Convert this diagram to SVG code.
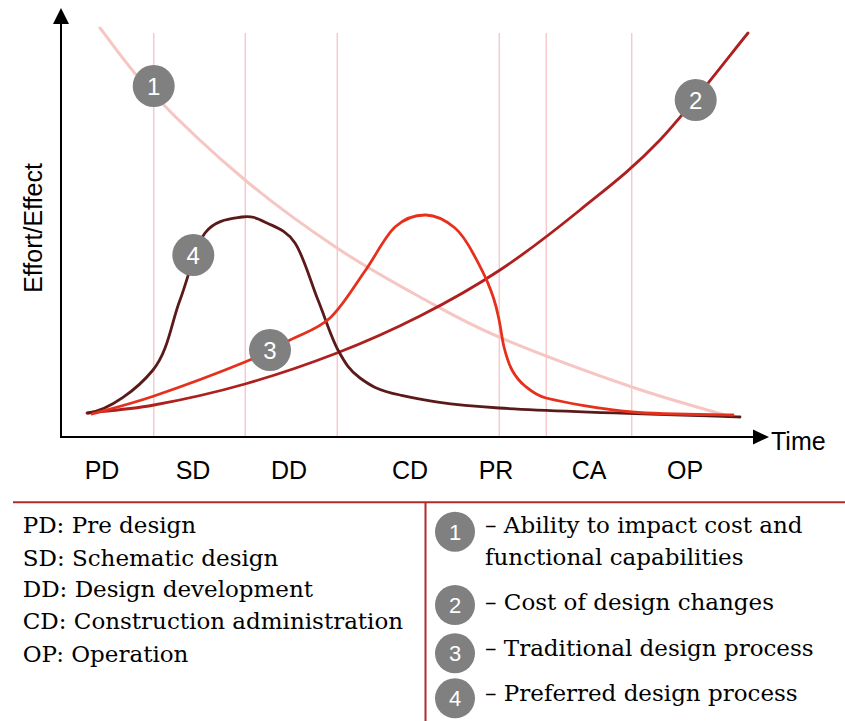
<svg xmlns="http://www.w3.org/2000/svg" width="845" height="721" viewBox="0 0 845 721">
<style>
.grid{stroke:#f6caca;stroke-width:1.5;fill:none}
.axis{stroke:#000;stroke-width:2;fill:none}
.curve{fill:none;stroke-linecap:round;stroke-linejoin:round}
.lbl{font-family:"Liberation Sans",Arial,sans-serif;font-size:25px;fill:#000}
.badge circle{fill:#808080}
.badge text{font-family:"Liberation Sans",Arial,sans-serif;fill:#fff;text-anchor:middle}
.leg{font-family:"DejaVu Serif","Liberation Serif",serif;font-size:23px;fill:#000}
.sep{stroke:#b22a2a;stroke-width:2;fill:none}
</style>
<rect width="845" height="721" fill="#fff"/>
<g id="grid">
<line class="grid" x1="153.7" y1="33" x2="153.7" y2="437"/>
<line class="grid" x1="245.3" y1="33" x2="245.3" y2="437"/>
<line class="grid" x1="337.3" y1="33" x2="337.3" y2="437"/>
<line class="grid" x1="499.3" y1="33" x2="499.3" y2="437"/>
<line class="grid" x1="546.3" y1="33" x2="546.3" y2="437"/>
<line class="grid" x1="631.7" y1="33" x2="631.7" y2="437"/>
</g>
<g id="axes">
<path class="axis" d="M61,22 L61,437 L756,437"/>
<path d="M53,24 L61,8 L69,24 Z" fill="#000"/>
<path d="M753,429.5 L769,437 L753,444.5 Z" fill="#000"/>
<text class="lbl" x="771" y="450">Time</text>
<text class="lbl" transform="translate(41.5,228) rotate(-90)" text-anchor="middle">Effort/Effect</text>
</g>
<g id="ticks">
<text class="lbl" x="102" y="479" text-anchor="middle">PD</text>
<text class="lbl" x="193" y="479" text-anchor="middle">SD</text>
<text class="lbl" x="289" y="479" text-anchor="middle">DD</text>
<text class="lbl" x="410" y="479" text-anchor="middle">CD</text>
<text class="lbl" x="496" y="479" text-anchor="middle">PR</text>
<text class="lbl" x="589" y="479" text-anchor="middle">CA</text>
<text class="lbl" x="685" y="479" text-anchor="middle">OP</text>
</g>
<g id="connectors">
<path id="curve1" class="curve" stroke="#f5c6c2" stroke-width="3" d="M100,28 C108.8,39 128.8,68.7 153,94 C177.2,119.3 214.3,154.3 245,180 C275.7,205.7 307.8,228.5 337,248 C366.2,267.5 393,282.2 420,297 C447,311.8 463.7,322 499,337 C534.3,352 594.3,374 632,387 C669.7,400 709.5,410.3 725,415"/>
<path id="curve2" class="curve" stroke="#ae1f1f" stroke-width="2.8" d="M87,413 C98.2,411.7 127.7,409.8 154,405 C180.3,400.2 214.5,392.7 245,384 C275.5,375.3 307.8,364.3 337,353 C366.2,341.7 392.8,329.8 420,316 C447.2,302.2 473.3,287.7 500,270 C526.7,252.3 553.3,231.7 580,210 C606.7,188.3 632,169.5 660,140 C688,110.5 733.3,50.8 748,33"/>
<path id="curve4" class="curve" stroke="#5b1a1a" stroke-width="2.8" d="M88,413 C110,410 137.7,388.8 153,370 C168.3,351.2 171.3,322.8 180,300 C188.7,277.2 194.7,246.8 205,233 C215.3,219.2 231.7,218.7 242,217 C252.3,215.3 258.2,218.7 267,223 C275.8,227.3 286.5,230.2 295,243 C303.5,255.8 310.8,282.2 318,300 C325.2,317.8 331,337 338,350 C345,363 349.7,370.5 360,378 C370.3,385.5 376.8,390 400,395 C423.2,400 442.3,404.3 499,408 C555.7,411.7 699.8,415.5 740,417"/>
<path id="curve3" class="curve" stroke="#e6301c" stroke-width="2.8" d="M92,414 C102.3,411 128.5,404.7 154,396 C179.5,387.3 222.3,371.3 245,362 C267.7,352.7 275.8,347.3 290,340 C304.2,332.7 317.5,329.5 330,318 C342.5,306.5 354.2,286.2 365,271 C375.8,255.8 384.8,236.3 395,227 C405.2,217.7 416,214.8 426,215 C436,215.2 447,221.3 455,228 C463,234.7 468.7,245 474,255 C482,270 493,290 498,315 C500.8,326.5 501.7,337.8 504,347 C506.3,356.2 508.5,363.5 512,370 C515.5,376.5 519.3,381.3 525,386 C530.7,390.7 536,395.5 546,398 C563.8,402.3 600.8,409.2 632,412 C663.2,414.8 716.2,414.5 733,415"/>
</g>
<g id="badge1" class="badge"><circle cx="153.7" cy="86" r="21"/><text x="153.7" y="94.5" font-size="24">1</text></g>
<g id="badge2" class="badge"><circle cx="695.7" cy="100" r="21"/><text x="695.7" y="108.5" font-size="24">2</text></g>
<g id="badge3" class="badge"><circle cx="270" cy="350" r="21"/><text x="270" y="358.5" font-size="24">3</text></g>
<g id="badge4" class="badge"><circle cx="193.3" cy="255" r="21"/><text x="193.3" y="263.5" font-size="24">4</text></g>
<g id="legend">
<path class="sep" d="M13,502.3 L845,502.3 M425.5,502.3 L425.5,721"/>
<text class="leg" x="22.7" y="533.3">PD: Pre design</text>
<text class="leg" x="22.7" y="565.7">SD: Schematic design</text>
<text class="leg" x="22.7" y="597.3">DD: Design development</text>
<text class="leg" x="22.7" y="629.3">CD: Construction administration</text>
<text class="leg" x="22.7" y="661.7">OP: Operation</text>
<g id="leg1" class="badge"><circle cx="455" cy="531.7" r="20"/><text x="455" y="539.5" font-size="22">1</text></g>
<g id="leg2" class="badge"><circle cx="455" cy="605" r="20"/><text x="455" y="612.8" font-size="22">2</text></g>
<g id="leg3" class="badge"><circle cx="455" cy="653.3" r="20"/><text x="455" y="661.1" font-size="22">3</text></g>
<g id="leg4" class="badge"><circle cx="455" cy="698.3" r="20"/><text x="455" y="706.1" font-size="22">4</text></g>
<text class="leg" x="485" y="533.3">– Ability to impact cost and</text>
<text class="leg" x="485" y="565">functional capabilities</text>
<text class="leg" x="485" y="610">– Cost of design changes</text>
<text class="leg" x="485" y="655.7">– Traditional design process</text>
<text class="leg" x="485" y="700.7">– Preferred design process</text>
</g>
</svg>
